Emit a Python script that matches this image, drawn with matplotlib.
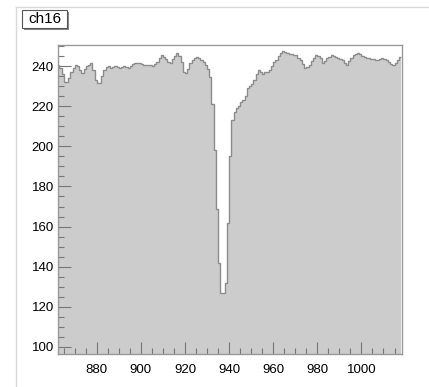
import matplotlib
matplotlib.use("Agg")
import matplotlib.pyplot as plt
import numpy as np
from matplotlib.ticker import MultipleLocator
from matplotlib.patches import Rectangle

plt.rcParams['font.family'] = ['Liberation Sans', 'DejaVu Sans']

# histogram "ch16": one bin per unit, 862 .. 1017
x_lo = 862
counts = [
    240.5, 239, 236, 232, 232, 234, 237, 239, 240.5, 240,      # 862-871
    238, 236.5, 238.5, 240, 240.5, 241.5, 238, 233, 231.5, 231.5,  # 872-881
    235, 238, 239.5, 240, 239, 239.5, 240, 239.5, 239, 239.5,  # 882-891
    240, 239.5, 239, 240, 241, 241.5, 241.5, 241.3, 241, 240.5,  # 892-901
    240.5, 240.5, 240.5, 240, 241, 242, 244, 245.5, 244.5, 243.5,  # 902-911
    242, 241.5, 243.5, 245, 246.3, 245, 242, 237, 236.3, 238.5,  # 912-921
    241.5, 243, 244, 244.6, 244, 243, 242, 240.5, 238.5, 234.5,  # 922-931
    221, 198, 169, 142, 127, 127, 132, 162, 195, 213,          # 932-941
    217, 219, 220, 222, 223, 225, 229, 230, 231, 233,          # 942-951
    236, 238, 237, 236, 237, 237, 238, 240, 242, 243,          # 952-961
    245, 246.5, 247.5, 247, 246.5, 246, 246, 245.5, 245.5, 244,  # 962-971
    243, 241, 239, 239.5, 240.5, 242.5, 244, 245.5, 245, 244,  # 972-981
    241.5, 242.5, 244, 244.5, 245.5, 245, 244.5, 244, 243.5, 243,  # 982-991
    241.5, 240.5, 242.5, 244, 245.5, 246, 246.3, 246, 245, 244.5,  # 992-1001
    244, 244, 243.5, 243.5, 243, 243, 243.5, 244, 243.5, 243,  # 1002-1011
    242, 241, 240.5, 241.5, 243, 244.5,                        # 1012-1017
]
edges = np.arange(x_lo, x_lo + len(counts) + 1)

fig = plt.figure(figsize=(4.29, 3.87), dpi=100)
ax = fig.add_axes([58/429, 1-354/387, (402-58)/429, (354-45)/387])

ax.stairs(counts, edges, baseline=0, fill=True, color='#cccccc', zorder=1)
ax.stairs(counts, edges, baseline=None, color='#8c8c8c', linewidth=1.0, zorder=2)

ax.set_xlim(edges[0] + 0.4, edges[-1] + 0.4)
ax.set_ylim(96.5, 250.5)

ax.xaxis.set_major_locator(MultipleLocator(20))
ax.xaxis.set_minor_locator(MultipleLocator(5))
ax.yaxis.set_major_locator(MultipleLocator(20))
ax.yaxis.set_minor_locator(MultipleLocator(5))
ax.tick_params(which='both', direction='in', color='#777777', width=0.8,
               labelsize=9.5, labelcolor='black')
ax.tick_params(which='major', length=9)
ax.tick_params(which='minor', length=4.5)
ax.tick_params(axis='x', pad=7)
ax.tick_params(axis='y', pad=3)
for s in ax.spines.values():
    s.set_color('#999999')
    s.set_linewidth(1.0)

# pad border (left and top)
fig.add_artist(plt.Line2D([16/429, 16/429], [0, 1-7/387], color='#d9d9d9', lw=1.0))
fig.add_artist(plt.Line2D([16/429, 1], [1-7/387, 1-7/387], color='#d9d9d9', lw=1.0))

# title box
fig.add_artist(Rectangle((24/429, 1-30/387), 45/429, 18/387, transform=fig.transFigure,
                         facecolor='#888888', edgecolor='none'))
fig.add_artist(Rectangle((22/429, 1-28/387), 45/429, 18/387, transform=fig.transFigure,
                         facecolor='white', edgecolor='#555555', lw=0.8))
fig.text(44.5/429, 1-19/387, 'ch16', ha='center', va='center', fontsize=11)

fig.savefig('out.png', dpi=100)
